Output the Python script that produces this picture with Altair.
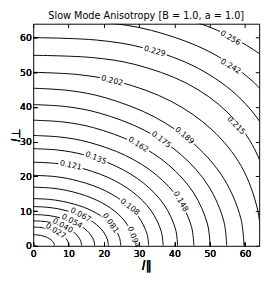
import altair as alt
import pandas as pd

# contour levels (innermost first)
levels = ["0.013", "0.027", "0.040", "0.054", "0.067", "0.081", "0.094", "0.108",
          "0.121", "0.135", "0.148", "0.162", "0.175", "0.189", "0.202", "0.215",
          "0.229", "0.242", "0.256"]

# points (l_par, l_perp)
contour_x = [
    [6.0, 5.91, 5.44, 4.60, 3.44, 2.05, 1.04, 0],
    [10.1, 9.95, 9.15, 7.74, 5.80, 3.45, 1.76, 0],
    [13.7, 13.49, 12.41, 10.49, 7.86, 4.69, 2.38, 0],
    [17.4, 17.14, 15.76, 13.33, 9.99, 5.95, 3.03, 0],
    [21.3, 20.98, 19.30, 16.32, 12.23, 7.28, 3.71, 0],
    [24.8, 24.43, 22.47, 19.00, 14.24, 8.48, 4.32, 0],
    [28.6, 28.17, 25.91, 21.91, 16.42, 9.78, 4.98, 0],
    [32.7, 32.21, 29.63, 25.05, 18.77, 11.18, 5.69, 0],
    [36.8, 36.25, 33.34, 28.19, 21.12, 12.59, 6.40, 0],
    [40.9, 40.29, 37.06, 31.33, 23.48, 13.99, 7.12, 0],
    [45.5, 44.82, 41.22, 34.85, 26.12, 15.56, 7.92, 0],
    [50.1, 49.35, 45.39, 38.38, 28.76, 17.13, 8.72, 0],
    [54.8, 53.98, 49.65, 41.98, 31.46, 18.74, 9.54, 0],
    [59.7, 58.80, 54.09, 45.73, 34.27, 20.42, 10.39, 0],
    [64.5, 63.60, 58.95, 50.63, 38.96, 24.32, 13.16, 0],
    [68.0, 67.18, 62.83, 54.94, 43.59, 28.83, 16.80, 0],
    [73.0, 72.12, 67.45, 58.98, 46.79, 30.95, 18.03, 0],
    [79.0, 78.05, 73.00, 63.83, 50.64, 33.50, 19.51, 0],
    [88.0, 86.94, 81.31, 71.10, 56.41, 37.31, 21.74, 0],
]
contour_y = [
    [0, 0.56, 1.35, 2.06, 2.62, 3.01, 3.15, 3.2],
    [0, 0.94, 2.28, 3.47, 4.42, 5.08, 5.32, 5.4],
    [0, 1.25, 3.05, 4.63, 5.90, 6.77, 7.09, 7.2],
    [0, 1.57, 3.81, 5.79, 7.37, 8.46, 8.87, 9.0],
    [0, 1.97, 4.78, 7.27, 9.25, 10.62, 11.13, 11.3],
    [0, 2.37, 5.75, 8.74, 11.14, 12.78, 13.40, 13.6],
    [0, 2.94, 7.15, 10.87, 13.84, 15.89, 16.65, 16.9],
    [0, 3.53, 8.59, 13.05, 16.63, 19.08, 20.00, 20.3],
    [0, 4.19, 10.19, 15.50, 19.74, 22.65, 23.74, 24.1],
    [0, 4.87, 11.84, 18.00, 22.93, 26.32, 27.58, 28.0],
    [0, 5.53, 13.45, 20.45, 26.04, 29.89, 31.32, 31.8],
    [0, 6.30, 15.31, 23.28, 29.65, 34.03, 35.66, 36.2],
    [0, 7.08, 17.22, 26.17, 33.33, 38.26, 40.09, 40.7],
    [0, 7.90, 19.20, 29.19, 37.18, 42.68, 44.72, 45.4],
    [0, 10.20, 22.90, 33.45, 41.70, 47.25, 49.30, 50.0],
    [0, 13.56, 27.61, 38.54, 46.77, 52.26, 54.24, 54.9],
    [0, 14.82, 30.18, 42.12, 51.12, 57.12, 59.28, 60.0],
    [0, 16.10, 32.80, 45.77, 55.55, 62.07, 64.42, 65.2],
    [0, 17.41, 35.46, 49.49, 60.07, 67.12, 69.65, 70.5],
]

# inline contour labels
label_text = ["0.027", "0.040", "0.054", "0.067", "0.081", "0.094", "0.108", "0.121",
              "0.135", "0.148", "0.162", "0.175", "0.189", "0.202", "0.215", "0.229",
              "0.242", "0.256"]
label_x = [6.3, 8.3, 10.9, 13.4, 21.8, 28.3, 27.3, 10.6, 17.7, 41.7, 29.7, 36.2, 42.8,
           22.3, 57.4, 34.4, 55.9, 55.8]
label_y = [4.2, 5.7, 7.0, 8.8, 6.5, 2.5, 11.1, 23.1, 25.2, 12.7, 29.1, 30.5, 31.7,
           47.5, 34.6, 56.0, 51.6, 59.8]
label_angle = [32, 30, 28, 28, 55, 70, 38, 12, 22, 60, 33, 38, 40, 15, 45, 15, 31, 30]

tick_values = [0, 10, 20, 30, 40, 50, 60]

rows = []
for lev, xs_, ys_ in zip(levels, contour_x, contour_y):
    for i, (xv, yv) in enumerate(zip(xs_, ys_)):
        rows.append({"level": lev, "order": i, "x": xv, "y": yv})
df = pd.DataFrame(rows)
lab = pd.DataFrame({"text": label_text, "x": label_x, "y": label_y, "angle": label_angle})

FONT = "DejaVu Sans"
xs = alt.Scale(domain=[0, 64], nice=False, zero=False)
ys = alt.Scale(domain=[0, 64], nice=False, zero=False)

common_axis = dict(values=tick_values, offset=-4, tickSize=4, tickColor="black", tickWidth=1,
                   domain=False, grid=False, labelFont=FONT, labelFontSize=9.5,
                   labelColor="black", labelFlush=False, labelOverlap=False)

ax_bottom = alt.Axis(orient="bottom", labelPadding=3, title="l∥", titleFont=FONT,
                     titleFontStyle="italic", titleFontWeight="normal", titleFontSize=13,
                     titleColor="black", titlePadding=2, **common_axis)
ax_left = alt.Axis(orient="left", labelPadding=2, title="l⊥", titleFont=FONT,
                   titleFontStyle="italic", titleFontWeight="normal", titleFontSize=12,
                   titleColor="black", titleX=-22, titleBaseline="middle",
                   **common_axis)
ax_top = alt.Axis(orient="top", labels=False, title=None, **common_axis)
ax_right = alt.Axis(orient="right", labels=False, title=None, **common_axis)

lines = alt.Chart(df).mark_line(color="black", strokeWidth=1, clip=True,
                                interpolate="catmull-rom").encode(
    x=alt.X("x:Q", scale=xs, axis=ax_bottom),
    y=alt.Y("y:Q", scale=ys, axis=ax_left),
    detail="level:N",
    order="order:Q",
)

mask = alt.Chart(lab).mark_point(
    shape="M-1,-0.25L1,-0.25L1,0.25L-1,0.25Z", filled=True, fill="white",
    opacity=1, strokeWidth=0, size=650, clip=True,
).encode(
    x=alt.X("x:Q", scale=xs, axis=ax_bottom),
    y=alt.Y("y:Q", scale=ys, axis=ax_left),
    angle=alt.Angle("angle:Q", scale=None),
)

texts = alt.Chart(lab).mark_text(font=FONT, fontSize=8, color="black",
                                 align="center", baseline="middle").encode(
    x=alt.X("x:Q", scale=xs, axis=ax_bottom),
    y=alt.Y("y:Q", scale=ys, axis=ax_left),
    text="text:N",
    angle=alt.Angle("angle:Q", scale=None),
)

frame_axes = alt.Chart(df).mark_point(opacity=0, clip=True).encode(
    x=alt.X("x:Q", scale=xs, axis=ax_top),
    y=alt.Y("y:Q", scale=ys, axis=ax_right),
)

chart = alt.layer(lines, mask, texts, frame_axes).resolve_axis(
    x="independent", y="independent"
).properties(
    width=233, height=229,
    title=alt.TitleParams("Slow Mode Anisotropy [B = 1.0, a = 1.0]", font=FONT,
                          fontSize=10, fontWeight="normal", color="black",
                          anchor="middle", offset=2),
    autosize=alt.AutoSizeParams(type="none"),
    padding={"left": 26, "top": 12, "right": 6, "bottom": 30},
).configure_view(stroke="black", strokeWidth=1)

chart.save("out.html", embed_options={"renderer": "svg", "actions": False})
